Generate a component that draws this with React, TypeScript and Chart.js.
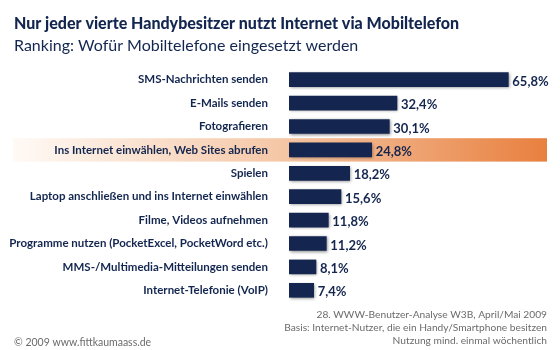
import React, { useEffect, useRef } from "react";
import { Chart, registerables } from "chart.js";

Chart.register(...registerables);

const categories = [
  "SMS-Nachrichten senden",
  "E-Mails senden",
  "Fotografieren",
  "Ins Internet einwählen, Web Sites abrufen",
  "Spielen",
  "Laptop anschließen und ins Internet einwählen",
  "Filme, Videos aufnehmen",
  "Programme nutzen (PocketExcel, PocketWord etc.)",
  "MMS-/Multimedia-Mitteilungen senden",
  "Internet-Telefonie (VoIP)",
];
const values = [65.8, 32.4, 30.1, 24.8, 18.2, 15.6, 11.8, 11.2, 8.1, 7.4];
const highlightIndex = 3;

const titleText = "Nur jeder vierte Handybesitzer nutzt Internet via Mobiltelefon";
const subtitleText = "Ranking: Wofür Mobiltelefone eingesetzt werden";
const sourceLines = [
  "28. WWW-Benutzer-Analyse W3B, April/Mai 2009",
  "Basis: Internet-Nutzer, die ein Handy/Smartphone besitzen",
  "Nutzung mind. einmal wöchentlich",
];
const copyrightText = "© 2009 www.fittkaumaass.de";

const NAVY = "#14264f";
const FONT = "Lato, 'Noto Sans', sans-serif";

const fmt = (v: number) => v.toFixed(1).replace(".", ",") + "%";

const decorPlugin = {
  id: "decor",
  beforeDraw(chart: any) {
    const { ctx } = chart;
    const y = chart.scales.y;
    const band = y.getPixelForValue(highlightIndex);
    const half = (y.getPixelForValue(1) - y.getPixelForValue(0)) / 2;
    const x0 = 13, x1 = 547;
    const g = ctx.createLinearGradient(x0, 0, x1, 0);
    g.addColorStop(0, "#fffaf6");
    g.addColorStop(0.5, "#f5c7a6");
    g.addColorStop(1, "#e8803f");
    ctx.save();
    ctx.fillStyle = g;
    ctx.fillRect(x0, band - half, x1 - x0, half * 2);
    ctx.restore();
  },
  beforeDatasetsDraw(chart: any) {
    const { ctx } = chart;
    ctx.save();
    ctx.shadowColor = "rgba(0,0,0,0.45)";
    ctx.shadowBlur = 3;
    ctx.shadowOffsetX = 1;
    ctx.shadowOffsetY = 1;
  },
  afterDatasetsDraw(chart: any) {
    const { ctx } = chart;
    ctx.restore();
    const meta = chart.getDatasetMeta(0);
    ctx.save();
    ctx.font = `bold 13px ${FONT}`;
    ctx.fillStyle = NAVY;
    ctx.textBaseline = "middle";
    ctx.textAlign = "left";
    meta.data.forEach((bar: any, i: number) => {
      ctx.fillText(fmt(values[i]), bar.x + 4, bar.y + 2);
    });
    ctx.restore();
  },
  afterDraw(chart: any) {
    const { ctx } = chart;
    ctx.save();
    ctx.fillStyle = "#13264f";
    ctx.textBaseline = "alphabetic";
    ctx.textAlign = "left";
    ctx.font = `900 16px ${FONT}`;
    ctx.fillText(titleText, 14, 29);
    ctx.font = `16px ${FONT}`;
    ctx.fillText(subtitleText, 14, 51);
    ctx.fillStyle = "#6b6b6b";
    ctx.font = `10.2px ${FONT}`;
    ctx.textAlign = "right";
    sourceLines.forEach((l, i) => ctx.fillText(l, 547, 318 + i * 13));
    ctx.textAlign = "left";
    ctx.font = `10.5px ${FONT}`;
    ctx.fillText(copyrightText, 14, 346);
    ctx.restore();
  },
};

export default function App() {
  const ref = useRef<HTMLCanvasElement | null>(null);
  useEffect(() => {
    if (!ref.current) return;
    const chart = new Chart(ref.current, {
      type: "bar",
      data: {
        labels: categories,
        datasets: [
          {
            data: values,
            backgroundColor: NAVY,
            barThickness: 14,
            borderWidth: 0,
          },
        ],
      },
      options: {
        indexAxis: "y",
        animation: false,
        responsive: false,
        layout: { padding: { top: 68, bottom: 48, right: 11, left: 0 } },
        plugins: {
          legend: { display: false },
          tooltip: { enabled: false },
          title: { display: false },
        },
        scales: {
          x: { display: false, min: 0, max: 78 },
          y: {
            grid: { display: false },
            border: { display: false },
            afterFit: (s: any) => {
              s.width = 289;
            },
            ticks: {
              padding: 13,
              color: "#13264f",
              font: { family: FONT, weight: "bold", size: 11.5 },
            },
          },
        },
      },
      plugins: [decorPlugin],
    });
    return () => chart.destroy();
  }, []);
  return (
    <div style={{ position: "fixed", left: 0, top: 0, width: 560, height: 350, background: "#fff" }}>
      <canvas ref={ref} width={560} height={350} style={{ width: 560, height: 350 }} />
    </div>
  );
}
